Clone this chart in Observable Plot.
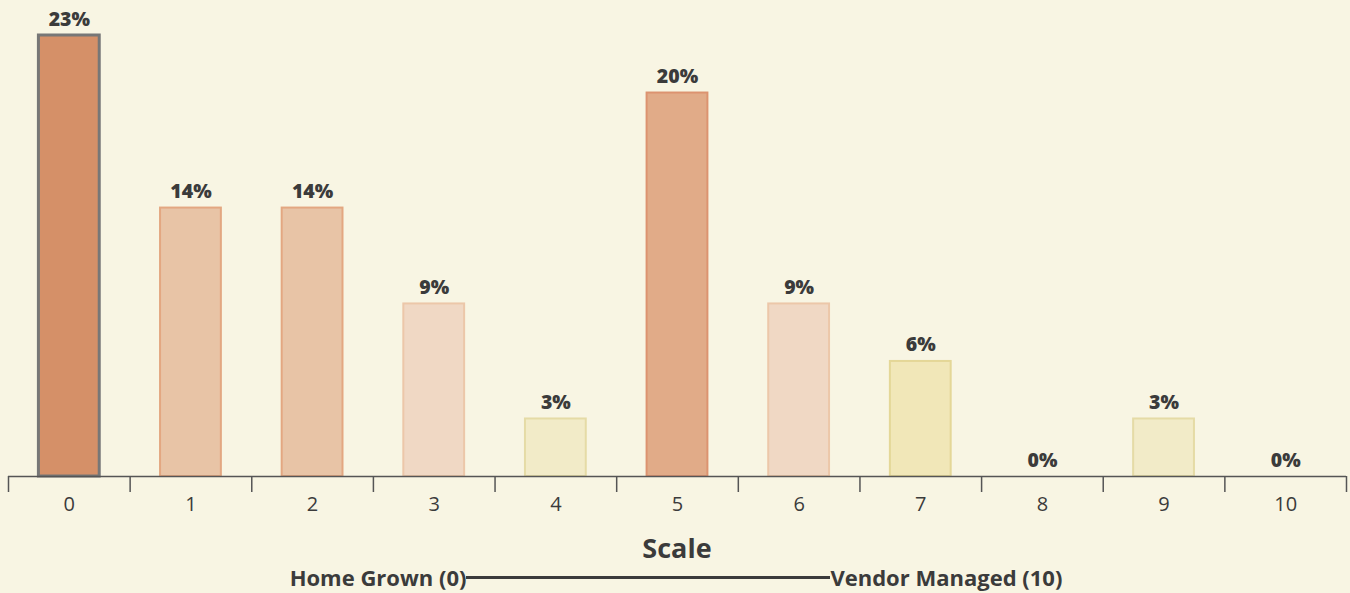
<!DOCTYPE html>
<html>
<head>
<meta charset="utf-8">
<script src="https://cdn.jsdelivr.net/npm/d3@7"></script>
<script src="https://cdn.jsdelivr.net/npm/@observablehq/plot@0.6"></script>
<style>
  html, body { margin: 0; padding: 0; background: #f8f5e3; }
  body { width: 1350px; height: 593px; overflow: hidden; font-family: "Open Sans", Lato, sans-serif; color: #3b3b3b; }
  #chart svg { display: block; background: transparent; }
  .scale-title { text-align: center; font-weight: 700; font-size: 27px; line-height: 30px; margin-top: 3px; margin-left: 4px; }
  .scale-row { display: flex; align-items: center; justify-content: center; font-weight: 700; font-size: 22px; line-height: 26px; margin-top: 1px; margin-left: 2px; }
  .scale-row .bar { width: 364px; height: 3px; background: #3b3b3b; margin-top: 1px; }
</style>
</head>
<body>
<div id="chart"></div>
<div class="scale-title">Scale</div>
<div class="scale-row"><span>Home Grown (0)</span><span class="bar"></span><span>Vendor Managed (10)</span></div>
<script>
// Share of responses at each point of the 0–10 scale
const scalePoints = [0, 1, 2, 3, 4, 5, 6, 7, 8, 9, 10];
const shares = [23, 14, 14, 9, 3, 20, 9, 6, 0, 3, 0];

// Bar styling, one entry per scale point
const barFill = ["#d59068", "#e8c4a6", "#e8c4a6", "#f0d8c4", "#f2ebc8", "#e1ab88", "#f0d8c4", "#f1e7b8", "#f2ebc8", "#f2ebc8", "#f2ebc8"];
const barStroke = ["#777777", "#e3a781", "#e3a781", "#ecc7a9", "#e5dba6", "#dc9370", "#ecc7a9", "#e4d797", "#e5dba6", "#e5dba6", "#e5dba6"];

const data = scalePoints.map((k, i) => ({k, share: shares[i], fill: barFill[i], stroke: barStroke[i], selected: i === 0}));
const boundaries = d3.range(scalePoints.length + 1).map(i => i - 0.5);

const chart = Plot.plot({
  width: 1350,
  height: 530,
  marginTop: 35,
  marginBottom: 54,
  marginLeft: 8,
  marginRight: 4,
  style: {background: "transparent", fontFamily: "'Open Sans', Lato, sans-serif", color: "#3b3b3b"},
  x: {type: "linear", domain: [-0.5, 10.5], axis: null},
  y: {domain: [0, 23], axis: null},
  marks: [
    Plot.rectY(data.filter(d => d.share > 0), {
      x1: d => d.k - 0.25,
      x2: d => d.k + 0.25,
      y1: 0,
      y2: "share",
      fill: d => d.fill,
      stroke: d => d.stroke,
      strokeWidth: d => d.selected ? 3 : 2
    }),
    Plot.text(data, {
      x: "k",
      y: "share",
      text: d => `${d.share}%`,
      lineAnchor: "bottom",
      dy: -10,
      fontSize: 19.5,
      fontWeight: 800,
      fill: "#3b3b3b"
    }),
    Plot.ruleY([0], {stroke: "#555", strokeWidth: 1.5}),
    Plot.axisX({ticks: boundaries, tickSize: 16, tickFormat: () => "", stroke: "#555", strokeWidth: 1.5, label: null}),
    Plot.axisX({ticks: scalePoints, tickSize: 0, tickPadding: 20, tickFormat: d => String(d), fontSize: 20, fontWeight: 400, fill: "#3b3b3b", label: null})
  ]
});
document.getElementById("chart").append(chart);
</script>
</body>
</html>
